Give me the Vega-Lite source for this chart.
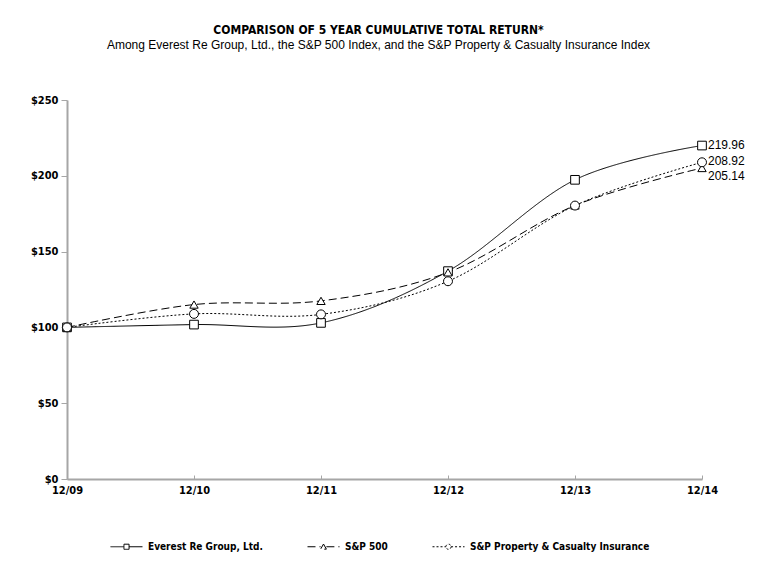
{
  "$schema": "https://vega.github.io/schema/vega-lite/v6.json",
  "width": 635,
  "height": 379,
  "autosize": "none",
  "padding": {"left": 67, "top": 100, "right": 55, "bottom": 100},
  "background": "white",
  "config": {"view": {"stroke": null}, "font": "DejaVu Sans Condensed, Liberation Sans, sans-serif"},
  "title": {
    "text": "COMPARISON OF 5 YEAR CUMULATIVE TOTAL RETURN*",
    "subtitle": "Among Everest Re Group, Ltd., the S&P 500 Index, and the S&P Property & Casualty Insurance Index",
    "anchor": "middle",
    "dx": -6,
    "font": "DejaVu Sans Condensed, Liberation Sans, sans-serif",
    "fontSize": 12,
    "fontWeight": "bold",
    "color": "black",
    "subtitleFont": "Liberation Sans",
    "subtitleFontSize": 12,
    "subtitleColor": "black",
    "subtitlePadding": 3,
    "offset": 42
  },
  "data": {
    "values": [
      {"year": "12/09", "series": "Everest Re Group, Ltd.", "value": 100},
      {"year": "12/10", "series": "Everest Re Group, Ltd.", "value": 101.86},
      {"year": "12/11", "series": "Everest Re Group, Ltd.", "value": 102.97},
      {"year": "12/12", "series": "Everest Re Group, Ltd.", "value": 137.11},
      {"year": "12/13", "series": "Everest Re Group, Ltd.", "value": 197.35},
      {"year": "12/14", "series": "Everest Re Group, Ltd.", "value": 219.96},
      {"year": "12/09", "series": "S&P 500", "value": 100},
      {"year": "12/10", "series": "S&P 500", "value": 115.06},
      {"year": "12/11", "series": "S&P 500", "value": 117.49},
      {"year": "12/12", "series": "S&P 500", "value": 136.3},
      {"year": "12/13", "series": "S&P 500", "value": 180.44},
      {"year": "12/14", "series": "S&P 500", "value": 205.14},
      {"year": "12/09", "series": "S&P Property & Casualty Insurance", "value": 100},
      {"year": "12/10", "series": "S&P Property & Casualty Insurance", "value": 108.91},
      {"year": "12/11", "series": "S&P Property & Casualty Insurance", "value": 108.59},
      {"year": "12/12", "series": "S&P Property & Casualty Insurance", "value": 130.45},
      {"year": "12/13", "series": "S&P Property & Casualty Insurance", "value": 180.36},
      {"year": "12/14", "series": "S&P Property & Casualty Insurance", "value": 208.92}
    ]
  },
  "encoding": {
    "x": {
      "field": "year",
      "type": "ordinal",
      "sort": null,
      "scale": {"type": "point", "padding": 0},
      "axis": {
        "title": null,
        "labelAngle": 0,
        "labelFontSize": 11,
        "labelFontWeight": "bold",
        "labelColor": "black",
        "labelPadding": 9,
        "tickSize": -4,
        "tickColor": "#a6a6a6",
        "domainColor": "#a6a6a6",
        "domainWidth": 2,
        "grid": false
      }
    },
    "y": {
      "field": "value",
      "type": "quantitative",
      "scale": {"domain": [0, 250]},
      "axis": {
        "title": null,
        "values": [0, 50, 100, 150, 200, 250],
        "format": "$.0f",
        "labelFontSize": 11,
        "labelFontWeight": "bold",
        "labelColor": "black",
        "labelPadding": 3,
        "tickSize": 6,
        "tickColor": "#a6a6a6",
        "domainColor": "#a6a6a6",
        "domainWidth": 2,
        "grid": false
      }
    }
  },
  "layer": [
    {
      "mark": {"type": "line", "interpolate": "cardinal", "tension": 0, "color": "black", "strokeWidth": 1},
      "encoding": {
        "strokeDash": {
          "field": "series",
          "type": "nominal",
          "scale": {
            "domain": ["Everest Re Group, Ltd.", "S&P 500", "S&P Property & Casualty Insurance"],
            "range": [[1, 0], [8, 4], [2, 2]]
          },
          "legend": {
            "title": null,
            "orient": "none",
            "direction": "horizontal",
            "legendX": 43,
            "legendY": 430,
            "padding": 0,
            "columnPadding": 42,
            "symbolSize": 1024,
            "symbolStrokeColor": "black",
            "symbolFillColor": "white",
            "symbolStrokeWidth": 1,
            "labelFontSize": 10,
            "labelFontWeight": "bold",
            "labelColor": "black",
            "labelOffset": 5,
            "labelLimit": 400,
            "encode": {
              "symbols": {
                "update": {
                  "shape": {"signal": "datum.value === 'Everest Re Group, Ltd.' ? 'M-1,0H-0.16M0.16,0H1M-0.16,-0.16H0.16V0.16H-0.16Z' : datum.value === 'S&P 500' ? 'M-1,0H-0.18M0.18,0H1M0,-0.17L0.18,0.15L-0.18,0.15Z' : 'M-1,0H-0.16M0.16,0H1M0.16,0A0.16,0.16 0 1 1 -0.16,0A0.16,0.16 0 1 1 0.16,0Z'"}
                }
              }
            }
          }
        }
      }
    },
    {
      "transform": [{"filter": "datum.series === 'Everest Re Group, Ltd.'"}],
      "mark": {"type": "point", "shape": "square", "filled": true, "fill": "white", "stroke": "black", "strokeWidth": 1, "size": 75, "opacity": 1}
    },
    {
      "transform": [{"filter": "datum.series === 'S&P 500'"}],
      "mark": {"type": "point", "shape": "triangle-up", "filled": true, "fill": "white", "stroke": "black", "strokeWidth": 1, "size": 70, "opacity": 1}
    },
    {
      "transform": [{"filter": "datum.series === 'S&P Property & Casualty Insurance'"}],
      "mark": {"type": "point", "shape": "circle", "filled": true, "fill": "white", "stroke": "black", "strokeWidth": 1, "size": 80, "opacity": 1}
    },
    {
      "transform": [{"filter": "datum.year === '12/14' && datum.series !== 'S&P 500'"}],
      "mark": {"type": "text", "align": "left", "baseline": "middle", "dx": 6, "dy": -1, "font": "Liberation Sans", "fontSize": 12, "color": "black"},
      "encoding": {"text": {"field": "value", "type": "quantitative", "format": ".2f"}}
    },
    {
      "transform": [{"filter": "datum.year === '12/14' && datum.series === 'S&P 500'"}],
      "mark": {"type": "text", "align": "left", "baseline": "middle", "dx": 6, "dy": 8, "font": "Liberation Sans", "fontSize": 12, "color": "black"},
      "encoding": {"text": {"field": "value", "type": "quantitative", "format": ".2f"}}
    }
  ]
}
